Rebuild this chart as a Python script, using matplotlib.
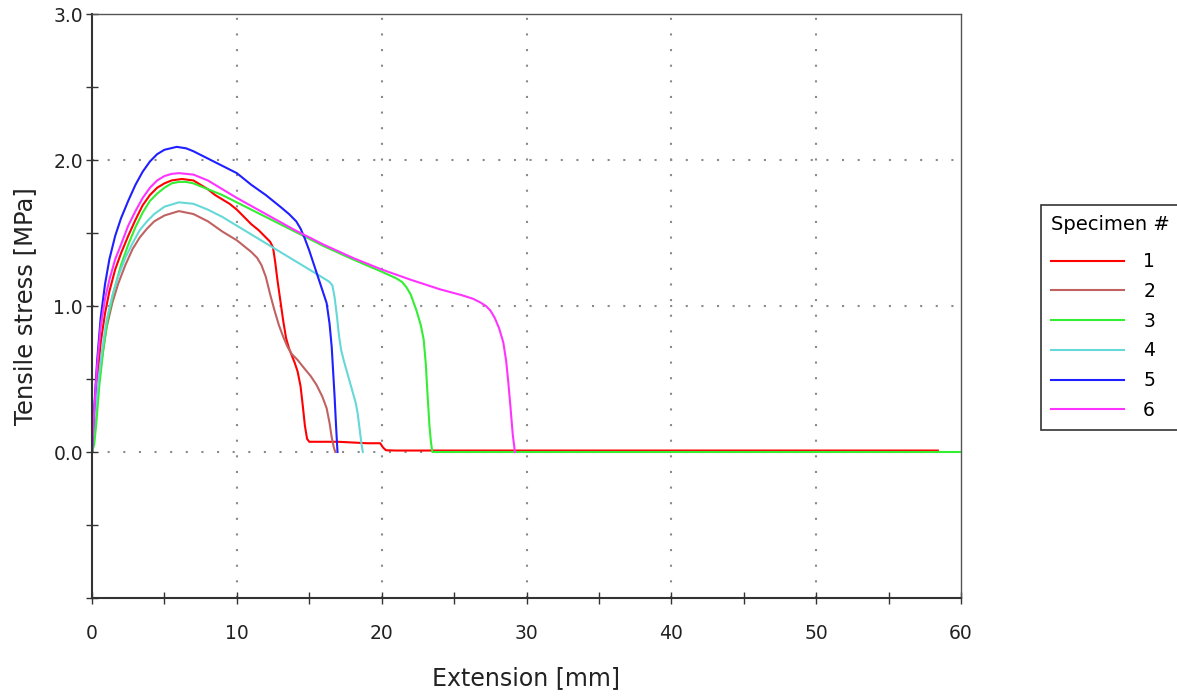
import numpy as np
import matplotlib.pyplot as plt
from matplotlib.ticker import MultipleLocator, FixedLocator

# specimen curves (extension mm, stress MPa)
x1 = [0, 0.15, 0.35, 0.6, 0.9, 1.2, 1.6, 2.0, 2.5, 3.0, 3.5, 4.0, 4.5, 5.0, 5.5, 6.2, 7.0, 7.5, 8,
      8.5, 9, 9.5, 10, 10.5, 11, 11.5, 12, 12.3, 12.5, 12.65, 12.8, 13.0, 13.2, 13.4, 13.6, 13.8,
      14.0, 14.2, 14.4, 14.55, 14.7, 14.85, 15.0, 16, 17, 18, 19, 19.9, 20.1, 20.3, 21, 30, 40, 50,
      58.4]
y1 = [0, 0.22, 0.48, 0.75, 0.95, 1.1, 1.25, 1.36, 1.48, 1.59, 1.69, 1.76, 1.81, 1.84, 1.86, 1.87,
      1.86, 1.83, 1.80, 1.76, 1.73, 1.70, 1.66, 1.61, 1.56, 1.52, 1.47, 1.44, 1.40, 1.30, 1.18,
      1.04, 0.90, 0.78, 0.71, 0.66, 0.61, 0.55, 0.45, 0.32, 0.18, 0.09, 0.07, 0.07, 0.07, 0.065,
      0.06, 0.06, 0.03, 0.012, 0.01, 0.01, 0.01, 0.01, 0.01]

x2 = [0, 0.2, 0.45, 0.7, 1.0, 1.4, 1.8, 2.3, 2.8, 3.3, 3.8, 4.3, 5, 6, 7, 8, 9, 10, 10.5, 11, 11.4,
      11.7, 12.0, 12.3, 12.6, 12.9, 13.2, 13.5, 13.8, 14.2, 14.6, 15.1, 15.5, 15.9, 16.2, 16.4,
      16.55, 16.7, 16.8]
y2 = [0, 0.2, 0.45, 0.65, 0.85, 1.02, 1.15, 1.28, 1.39, 1.47, 1.53, 1.58, 1.62, 1.65, 1.63, 1.58,
      1.51, 1.45, 1.41, 1.37, 1.33, 1.28, 1.20, 1.08, 0.97, 0.87, 0.79, 0.72, 0.67, 0.63, 0.58,
      0.52, 0.46, 0.38, 0.30, 0.20, 0.10, 0.03, 0.0]

x3 = [0, 0.15, 0.3, 0.5, 0.8, 1.1, 1.5, 2, 2.5, 3, 3.5, 4, 4.5, 5, 5.5, 6, 6.5, 7, 8, 9, 10, 12,
      14, 16, 18, 20, 21, 21.4, 21.7, 22.0, 22.4, 22.7, 22.9, 23.05, 23.15, 23.3, 23.4, 23.5, 30,
      40, 50, 60]
y3 = [0, 0.05, 0.2, 0.45, 0.72, 0.92, 1.1, 1.28, 1.42, 1.54, 1.64, 1.72, 1.77, 1.81, 1.84, 1.85,
      1.85, 1.84, 1.80, 1.76, 1.71, 1.61, 1.51, 1.41, 1.32, 1.235, 1.19, 1.165, 1.13, 1.08, 0.97,
      0.87, 0.77, 0.60, 0.42, 0.18, 0.07, 0.0, 0.0, 0.0, 0.0, 0.0]

x4 = [0, 0.2, 0.45, 0.7, 1.0, 1.4, 1.8, 2.3, 2.8, 3.3, 3.8, 4.3, 5, 6, 7, 8, 9, 10, 11, 12, 13,
      14, 15, 16, 16.4, 16.6, 16.75, 16.9, 17.05, 17.2, 17.4, 17.6, 17.8, 18.0, 18.2, 18.35, 18.5,
      18.6, 18.7]
y4 = [0, 0.25, 0.5, 0.7, 0.9, 1.07, 1.2, 1.33, 1.43, 1.52, 1.58, 1.63, 1.68, 1.71, 1.70, 1.66,
      1.61, 1.55, 1.49, 1.43, 1.37, 1.31, 1.25, 1.19, 1.165, 1.14, 1.06, 0.94, 0.80, 0.70, 0.62,
      0.55, 0.48, 0.41, 0.34, 0.26, 0.14, 0.06, 0.0]

x5 = [0, 0.15, 0.35, 0.6, 0.9, 1.2, 1.6, 2.0, 2.5, 3.0, 3.5, 4.0, 4.5, 5.0, 5.85, 6.5, 7, 8, 9,
      10, 11, 12, 13, 13.6, 14.1, 14.4, 14.7, 15.0, 15.3, 15.6, 15.9, 16.2, 16.4, 16.55, 16.65,
      16.75, 16.85, 16.95]
y5 = [0, 0.3, 0.62, 0.92, 1.15, 1.32, 1.48, 1.6, 1.72, 1.83, 1.92, 1.99, 2.04, 2.07, 2.09, 2.08,
      2.06, 2.01, 1.96, 1.91, 1.83, 1.76, 1.68, 1.63, 1.58, 1.53, 1.46, 1.38, 1.29, 1.20, 1.11,
      1.02, 0.88, 0.72, 0.55, 0.38, 0.18, 0.0]

x6 = [0, 0.15, 0.35, 0.6, 0.9, 1.2, 1.6, 2.0, 2.5, 3.0, 3.5, 4.0, 4.5, 5.0, 5.5, 6, 7, 8, 9, 10,
      12, 14, 16, 18, 20, 22, 24, 25.5, 26.3, 26.8, 27.2, 27.5, 27.8, 28.1, 28.4, 28.6, 28.75,
      28.9, 29.05, 29.2]
y6 = [0, 0.28, 0.58, 0.86, 1.05, 1.18, 1.32, 1.42, 1.55, 1.65, 1.74, 1.81, 1.86, 1.89, 1.905, 1.91,
      1.90, 1.86, 1.80, 1.74, 1.63, 1.52, 1.42, 1.33, 1.25, 1.18, 1.115, 1.075, 1.05, 1.025, 1.0,
      0.97, 0.92, 0.85, 0.75, 0.62, 0.47, 0.3, 0.12, 0.0]

labels = ["1", "2", "3", "4", "5", "6"]
colors = ["#ff0000", "#c06262", "#33ee33", "#66d8d8", "#1f1fff", "#ff33ff"]

grid_x = [10, 20, 30, 40, 50]
grid_y = [0, 1, 2]

fig = plt.figure(figsize=(11.77, 6.98), dpi=100)
ax = fig.add_axes([92/1177, 1-598/698, (961-92)/1177, (598-14)/698])

# dotted grid, only inside the frame
for gx in grid_x:
    ax.axvline(gx, color="#8a8a8a", linestyle=(0, (1, 6.5)), lw=1.5, zorder=0)
for gy in grid_y:
    ax.axhline(gy, color="#8a8a8a", linestyle=(0, (1, 6.5)), lw=1.5, zorder=0)

for xs, ys, lab, c in zip([x1, x2, x3, x4, x5, x6], [y1, y2, y3, y4, y5, y6], labels, colors):
    ax.plot(xs, ys, color=c, lw=1.5, label=lab)

ax.set_xlim(0, 60)
ax.set_ylim(-1, 3)
ax.xaxis.set_major_locator(MultipleLocator(10))
ax.xaxis.set_minor_locator(MultipleLocator(5))
ax.yaxis.set_major_locator(FixedLocator([-1, 0, 1, 2, 3]))
ax.yaxis.set_minor_locator(MultipleLocator(0.5))
ax.set_yticklabels(["", "0.0", "1.0", "2.0", "3.0"])

ax.tick_params(which="both", direction="inout", color="#333333", labelcolor="#222222",
               labelsize=13.5, width=1)
ax.tick_params(which="major", length=9)
ax.tick_params(which="minor", length=8)
ax.tick_params(axis="x", pad=14)
ax.tick_params(axis="y", pad=2)

for s in ["left", "bottom"]:
    ax.spines[s].set_color("#333333")
    ax.spines[s].set_linewidth(1.5)
for s in ["top", "right"]:
    ax.spines[s].set_color("#555555")
    ax.spines[s].set_linewidth(1.0)

ax.set_xlabel("Extension [mm]", fontsize=17, color="#222222", labelpad=17)
ax.set_ylabel("Tensile stress [MPa]", fontsize=17.5, color="#222222", labelpad=12)

leg = fig.legend(loc="upper left", bbox_to_anchor=(1041/1177, 1-205/698), borderaxespad=0,
                 title="Specimen #", fontsize=13.5, title_fontsize=14, handlelength=3.9,
                 handletextpad=1.0, labelspacing=0.57, fancybox=False, framealpha=1,
                 borderpad=0.55)
leg.get_frame().set_edgecolor("#333333")
leg.get_frame().set_linewidth(1.2)
leg._legend_box.align = "left"
leg._legend_box.sep = 13

fig.savefig("out.png", dpi=100)
